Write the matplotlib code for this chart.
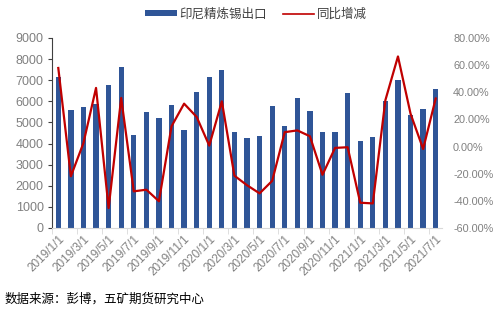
import matplotlib
matplotlib.use("Agg")
import matplotlib.pyplot as plt
from matplotlib.patches import Patch
from matplotlib.lines import Line2D
from matplotlib.ticker import FuncFormatter

plt.rcParams["font.family"] = ["Liberation Sans", "Noto Sans CJK SC", "DejaVu Sans"]

months = [f"{y}/{m}/1" for y in (2019, 2020, 2021) for m in range(1, 13)][:31]

exports = [
    7140, 5570, 5730, 5890, 6760, 7630, 4420, 5510, 5230, 5830, 4640, 6440,
    7140, 7480, 4550, 4240, 4360, 5780, 4830, 6140, 5560, 4530, 4560, 6380,
    4140, 4330, 6030, 7010, 5350, 5620, 6570,
]

yoy = [
    57.9, -21.9, 2.6, 43.2, -45.3, 35.8, -33.0, -31.8, -40.3, 14.9, 31.6, 21.8,
    0.7, 33.3, -21.5, -28.5, -34.5, -25.3, 10.6, 11.9, 7.6, -20.8, -1.0, -0.5,
    -41.4, -41.9, 34.2, 66.4, 24.2, -1.8, 35.4,
]

bar_color = "#2F5597"
line_color = "#C00000"
grey = "#808080"

fig = plt.figure(figsize=(5, 3.14), dpi=100)
ax = fig.add_axes([0.104, 0.274, 0.78, 0.605])
ax2 = ax.twinx()

x = list(range(len(months)))
ax.bar(x, exports, width=0.42, color=bar_color, zorder=2)
ax2.plot(x, yoy, color=line_color, linewidth=1.6, zorder=3)

ax.set_xlim(-0.5, len(months) - 0.5)
ax.set_ylim(0, 9000)
ax.set_yticks(range(0, 9001, 1000))
ax2.set_ylim(-60, 80)
ax2.set_yticks(range(-60, 81, 20))
ax2.yaxis.set_major_formatter(FuncFormatter(lambda v, _: f"{v:.2f}%"))

ax.set_xticks(x[::2])
ax.set_xticklabels(months[::2], rotation=45, ha="right", rotation_mode="anchor")
ax.set_xticks([i - 0.5 for i in range(0, len(months) + 1, 2)], minor=True)
ax.tick_params(axis="x", which="major", length=0, pad=4, labelsize=8.5, labelcolor=grey)
ax.tick_params(axis="x", which="minor", length=4, color="#d9d9d9", direction="out")
ax.tick_params(axis="y", length=3, labelsize=9, labelcolor=grey, color="#404040", pad=3)
ax2.tick_params(axis="y", length=0, labelsize=7.8, labelcolor=grey, pad=8)

for a in (ax, ax2):
    a.spines["top"].set_visible(False)
    a.spines["right"].set_visible(False)
ax2.spines["left"].set_visible(False)
ax2.spines["bottom"].set_visible(False)
ax.spines["left"].set_color("#404040")
ax.spines["bottom"].set_color("#d9d9d9")

handles = [
    Patch(facecolor=bar_color, label="印尼精炼锡出口"),
    Line2D([0], [0], color=line_color, linewidth=1.2, label="同比增减"),
]
fig.legend(handles=handles, loc="center", bbox_to_anchor=(0.512, 0.955), ncol=2,
           frameon=False, fontsize=9, handlelength=2.5, handleheight=0.35,
           handletextpad=0.2, columnspacing=1.3, labelcolor="#404040")

fig.text(0.01, 0.035, "数据来源：彭博，五矿期货研究中心", fontsize=9,
         family=["Noto Sans CJK SC", "DejaVu Sans"], color="black")

fig.savefig("out.png", dpi=100)
